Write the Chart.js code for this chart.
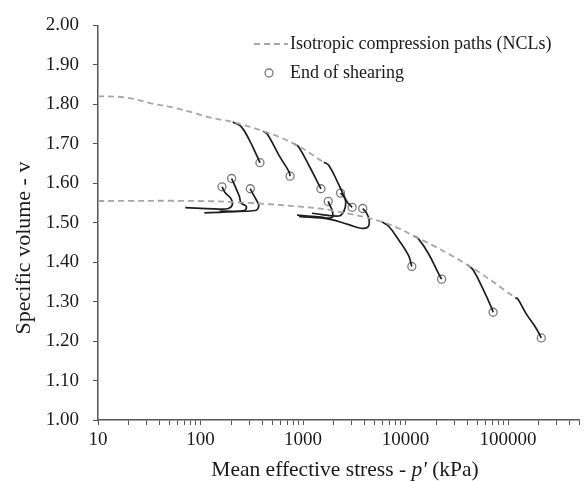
<!DOCTYPE html>
<html>
<head>
<meta charset="utf-8">
<script src="https://cdn.jsdelivr.net/npm/chart.js@4.4.1/dist/chart.umd.min.js"></script>
<style>
  html, body { margin: 0; padding: 0; background: #fff; }
  #wrap { width: 585px; height: 481px; }
</style>
</head>
<body>
<div id="wrap"><canvas id="canvas"></canvas></div>
<script>
// [p' (kPa), specific volume v]
var nclUpper = [[10,1.821],[19,1.817],[34,1.802],[58,1.790],[84,1.779],[122,1.767],[206,1.755],[409,1.732],[818,1.700],[1600,1.653]];
var nclLower = [[10,1.555],[100,1.555],[300,1.550],[1000,1.540],[2000,1.530],[5915,1.502],[11970,1.467],[40300,1.393],[117800,1.310]];

// shearing from the upper NCL
var shearUpper = [
    [[206,1.755],[248,1.744],[299,1.710],[357,1.668],[380,1.652]],
    [[409,1.732],[450,1.724],[585,1.670],[731,1.629],[748,1.618]],
    [[818,1.700],[900,1.693],[1143,1.645],[1429,1.596],[1495,1.586]],
    [[1600,1.653],[1788,1.645],[2237,1.596],[2675,1.554],[3013,1.539]]
];
// lightly loaded samples, left group
var shearLeft = [
    [[71,1.538],[137,1.535],[187,1.536],[205,1.547],[196,1.563],[175,1.575],[162,1.591]],
    [[109,1.525],[267,1.531],[280,1.541],[249,1.550],[239,1.567],[222,1.587],[201,1.612]],
    [[153,1.529],[342,1.531],[370,1.543],[350,1.558],[322,1.575],[306,1.586]]
];
// right group
var shearMid = [
    [[875,1.519],[1430,1.515],[1914,1.513],[1933,1.529],[1829,1.544],[1761,1.554]],
    [[1222,1.524],[2239,1.517],[2503,1.529],[2614,1.551],[2503,1.566],[2323,1.575]],
    [[914,1.516],[1787,1.509],[2799,1.495],[3658,1.486],[4279,1.489],[4424,1.506],[4178,1.524],[3825,1.536]]
];
// shearing from the lower NCL
var shearLower = [
    [[5915,1.502],[6845,1.491],[8550,1.457],[10690,1.417],[11510,1.389]],
    [[11970,1.467],[13370,1.459],[16710,1.422],[20900,1.372],[22500,1.357]],
    [[40300,1.393],[45700,1.380],[57200,1.331],[68900,1.285],[71500,1.273]],
    [[117800,1.310],[125000,1.306],[150600,1.269],[188400,1.232],[210800,1.208]]
];

var pTickLabels = [10, 100, 1000, 10000, 100000];
var vTicks = [1.0, 1.1, 1.2, 1.3, 1.4, 1.5, 1.6, 1.7, 1.8, 1.9, 2.0];

var SERIF = "'Liberation Serif', 'Times New Roman', serif";

function pts(arr) {
    return arr.map(function (d) { return { x: d[0], y: d[1] }; });
}

var datasets = [];
[nclUpper, nclLower].forEach(function (line) {
    datasets.push({
        label: 'NCL',
        data: pts(line),
        showLine: true,
        borderColor: '#a6a6a6',
        borderWidth: 1.8,
        borderDash: [6, 4],
        pointRadius: 0,
        tension: 0.4,
        fill: false
    });
});

var allPaths = shearUpper.concat(shearLeft, shearMid, shearLower);
allPaths.forEach(function (path) {
    datasets.push({
        label: 'path',
        data: pts(path),
        showLine: true,
        borderColor: '#1e1e1e',
        borderWidth: 1.7,
        pointRadius: 0,
        tension: 0.4,
        fill: false
    });
});

// open circles at the last point of every path
datasets.push({
    label: 'End of shearing',
    data: pts(allPaths.map(function (p) { return p[p.length - 1]; })),
    showLine: false,
    pointRadius: 4,
    pointBorderWidth: 1.3,
    pointBorderColor: '#7a7a7a',
    pointBackgroundColor: '#ffffff'
});

// minor + major tick positions for the log axis
var pTicks = [];
for (var e = 1; e <= 5; e++) {
    for (var m = 1; m <= 9; m++) {
        var val = m * Math.pow(10, e);
        if (val <= 500000) pTicks.push(val);
    }
}

var extras = {
    id: 'extras',
    afterDraw: function (chart) {
        var ctx = chart.ctx;
        ctx.save();
        // legend
        ctx.strokeStyle = '#a6a6a6';
        ctx.lineWidth = 1.8;
        ctx.setLineDash([6, 4]);
        ctx.beginPath();
        ctx.moveTo(254, 44);
        ctx.lineTo(288, 44);
        ctx.stroke();
        ctx.setLineDash([]);
        ctx.beginPath();
        ctx.arc(269, 73, 4, 0, Math.PI * 2);
        ctx.fillStyle = '#fff';
        ctx.fill();
        ctx.strokeStyle = '#7a7a7a';
        ctx.lineWidth = 1.3;
        ctx.stroke();
        ctx.fillStyle = '#1a1a1a';
        ctx.font = '18px ' + SERIF;
        ctx.textBaseline = 'middle';
        ctx.textAlign = 'left';
        ctx.fillText('Isotropic compression paths (NCLs)', 290, 44);
        ctx.fillText('End of shearing', 290, 73);

        // x title with italic p'
        var fs = '21.5px ';
        ctx.font = fs + SERIF;
        var a = 'Mean effective stress - ', b = "p'", c = ' (kPa)';
        var wa = ctx.measureText(a).width, wc = ctx.measureText(c).width;
        ctx.font = 'italic ' + fs + SERIF;
        var wb = ctx.measureText(b).width;
        var x0 = 345 - (wa + wb + wc) / 2;
        var y0 = 470;
        ctx.font = fs + SERIF;
        ctx.fillText(a, x0, y0);
        ctx.font = 'italic ' + fs + SERIF;
        ctx.fillText(b, x0 + wa, y0);
        ctx.font = fs + SERIF;
        ctx.fillText(c, x0 + wa + wb, y0);

        // y title
        ctx.font = '22px ' + SERIF;
        ctx.translate(24, 248);
        ctx.rotate(-Math.PI / 2);
        ctx.textAlign = 'center';
        ctx.fillText('Specific volume - v', 0, 0);
        ctx.restore();
    }
};

new Chart(document.getElementById('canvas'), {
    type: 'scatter',
    data: { datasets: datasets },
    options: {
        responsive: true,
        maintainAspectRatio: false,
        animation: false,
        layout: { padding: { top: 17, right: 3, left: 0, bottom: 0 } },
        plugins: {
            legend: { display: false },
            tooltip: { enabled: false }
        },
        scales: {
            x: {
                type: 'logarithmic',
                min: 10,
                max: 500000,
                afterBuildTicks: function (scale) {
                    scale.ticks = pTicks.map(function (v) { return { value: v }; });
                },
                afterFit: function (scale) { scale.height = 61; },
                ticks: {
                    autoSkip: false,
                    maxRotation: 0,
                    padding: 4,
                    color: '#1a1a1a',
                    font: { family: SERIF, size: 19 },
                    callback: function (v) {
                        return pTickLabels.indexOf(v) >= 0 ? String(v) : '';
                    }
                },
                grid: { drawOnChartArea: false, drawTicks: true, tickLength: 5, color: '#555' },
                border: { color: '#555', width: 1.5 }
            },
            y: {
                min: 1,
                max: 2,
                afterBuildTicks: function (scale) {
                    scale.ticks = vTicks.map(function (v) { return { value: v }; });
                },
                afterFit: function (scale) { scale.width = 98; },
                ticks: {
                    padding: 14,
                    color: '#1a1a1a',
                    font: { family: SERIF, size: 19 },
                    callback: function (v) { return v.toFixed(2); }
                },
                grid: { drawOnChartArea: false, drawTicks: true, tickLength: 5, color: '#555' },
                border: { color: '#555', width: 1.5 }
            }
        }
    },
    plugins: [extras]
});
</script>
</body>
</html>
